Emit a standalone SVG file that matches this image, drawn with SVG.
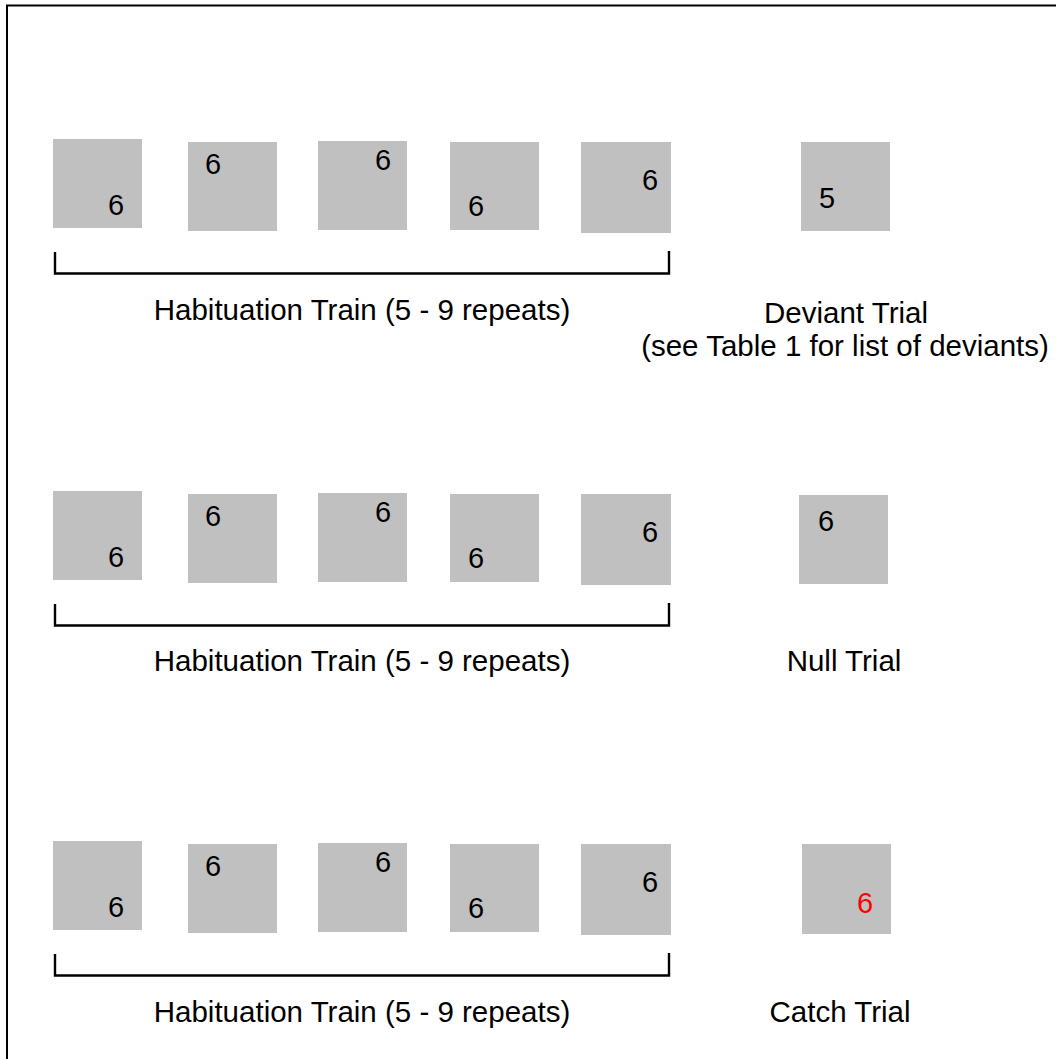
<svg xmlns="http://www.w3.org/2000/svg" width="1056" height="1059" viewBox="0 0 1056 1059">
<style>
.sq{fill:#c0c0c0}
.d{font-family:"Liberation Sans",Arial,sans-serif;font-size:29px;fill:#000}
.red{fill:#ff0000}
.lbl{font-family:"Liberation Sans",Arial,sans-serif;font-size:29.5px;fill:#000;text-anchor:middle}
.br{fill:none;stroke:#000;stroke-width:2.4}
</style>
<rect width="1056" height="1059" fill="#fff"/>
<path d="M7,1059 V5.5 H1056" fill="none" stroke="#000" stroke-width="2"/>

<g id="row1">
  <g id="r1s1"><rect class="sq" x="53" y="139" width="89" height="89"/><text class="d" x="108" y="215">6</text></g>
  <g id="r1s2"><rect class="sq" x="188" y="142" width="89" height="89"/><text class="d" x="205" y="174">6</text></g>
  <g id="r1s3"><rect class="sq" x="318" y="141" width="89" height="89"/><text class="d" x="375" y="170">6</text></g>
  <g id="r1s4"><rect class="sq" x="450" y="142" width="89" height="88"/><text class="d" x="468" y="216">6</text></g>
  <g id="r1s5"><rect class="sq" x="581" y="142" width="90" height="91"/><text class="d" x="642" y="190">6</text></g>
  <g id="r1dev"><rect class="sq" x="801" y="142" width="89" height="89"/><text class="d" x="819" y="208">5</text></g>
  <text class="lbl" x="362" y="320">Habituation Train (5 - 9 repeats)</text>
  <text class="lbl" x="846" y="323">Deviant Trial</text>
  <text class="lbl" x="845" y="356">(see Table 1 for list of deviants)</text>
</g>

<g id="row2">
  <g id="r2s1"><rect class="sq" x="53" y="491" width="89" height="89"/><text class="d" x="108" y="567">6</text></g>
  <g id="r2s2"><rect class="sq" x="188" y="494" width="89" height="89"/><text class="d" x="205" y="526">6</text></g>
  <g id="r2s3"><rect class="sq" x="318" y="493" width="89" height="89"/><text class="d" x="375" y="522">6</text></g>
  <g id="r2s4"><rect class="sq" x="450" y="494" width="89" height="88"/><text class="d" x="468" y="568">6</text></g>
  <g id="r2s5"><rect class="sq" x="581" y="494" width="90" height="91"/><text class="d" x="642" y="542">6</text></g>
  <g id="r2null"><rect class="sq" x="799" y="495" width="89" height="89"/><text class="d" x="818" y="531">6</text></g>
  <text class="lbl" x="362" y="671">Habituation Train (5 - 9 repeats)</text>
  <text class="lbl" x="844" y="671">Null Trial</text>
</g>

<g id="row3">
  <g id="r3s1"><rect class="sq" x="53" y="841" width="89" height="89"/><text class="d" x="108" y="917">6</text></g>
  <g id="r3s2"><rect class="sq" x="188" y="844" width="89" height="89"/><text class="d" x="205" y="876">6</text></g>
  <g id="r3s3"><rect class="sq" x="318" y="843" width="89" height="89"/><text class="d" x="375" y="872">6</text></g>
  <g id="r3s4"><rect class="sq" x="450" y="844" width="89" height="88"/><text class="d" x="468" y="918">6</text></g>
  <g id="r3s5"><rect class="sq" x="581" y="844" width="90" height="91"/><text class="d" x="642" y="892">6</text></g>
  <g id="r3catch"><rect class="sq" x="802" y="844" width="89" height="90"/><text class="d red" x="857" y="913">6</text></g>
  <text class="lbl" x="362" y="1022">Habituation Train (5 - 9 repeats)</text>
  <text class="lbl" x="840" y="1022">Catch Trial</text>
</g>

<g id="connectors">
  <path class="br" d="M55,252 V273.5 H669 V251"/>
  <path class="br" d="M55,604 V625.5 H669 V603"/>
  <path class="br" d="M55,954 V975.5 H669 V953"/>
</g>
</svg>
